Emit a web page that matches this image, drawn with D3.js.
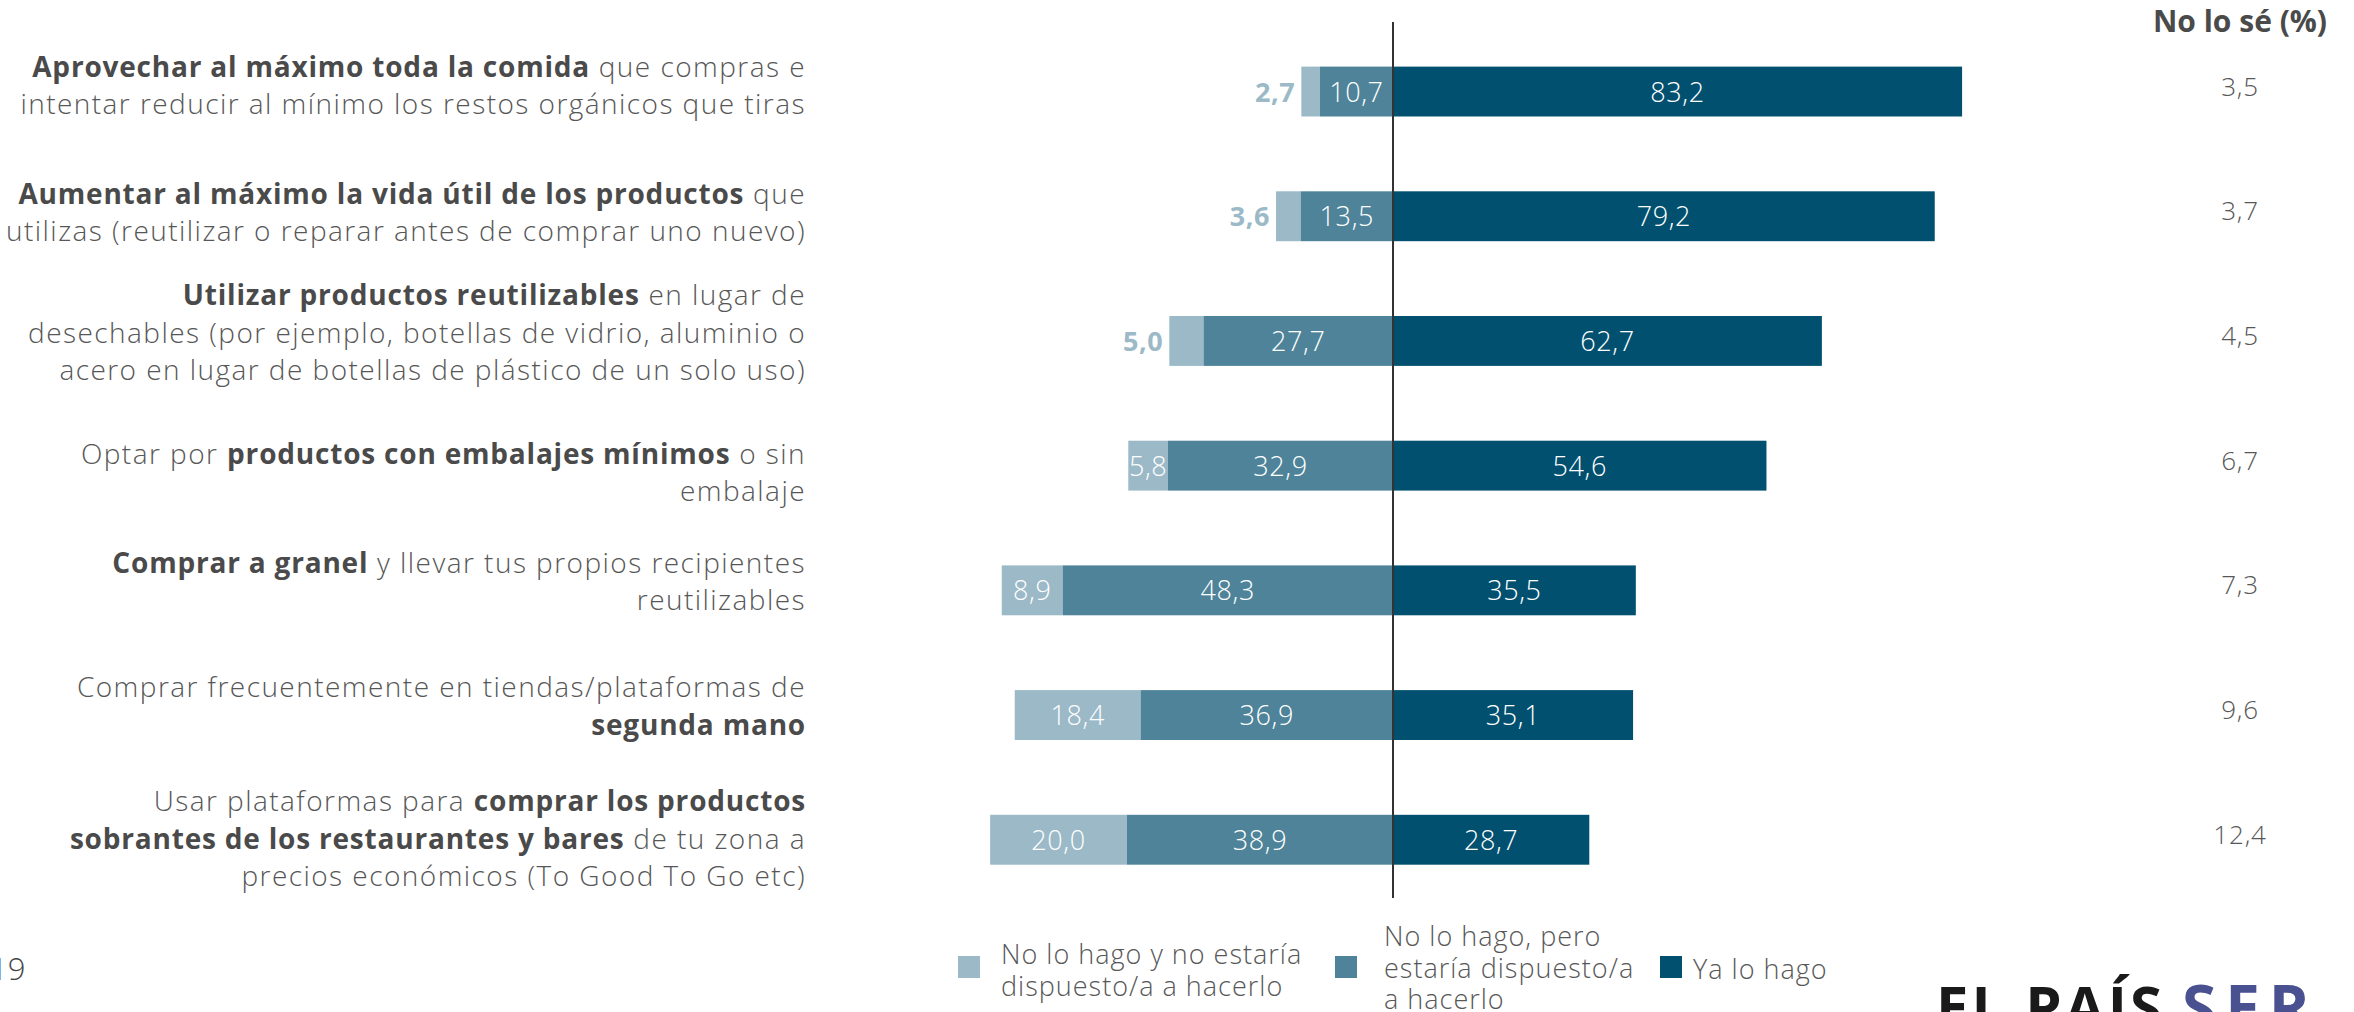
<!DOCTYPE html>
<html>
<head>
<meta charset="utf-8">
<script src="https://cdn.jsdelivr.net/npm/d3@7"></script>
<style>
  html, body { margin: 0; padding: 0; background: #fff; }
  svg { display: block; }
  text { font-family: "Open Sans", "Noto Sans", sans-serif; }
</style>
</head>
<body>
<svg id="chart" width="2354" height="1012"></svg>
<script>
// ---------- DATA ----------
const categories = [
  [[["Aprovechar al máximo toda la comida", 1], [" que compras e", 0]],
   [["intentar reducir al mínimo los restos orgánicos que tiras", 0]]],
  [[["Aumentar al máximo la vida útil de los productos", 1], [" que", 0]],
   [["utilizas (reutilizar o reparar antes de comprar uno nuevo)", 0]]],
  [[["Utilizar productos reutilizables", 1], [" en lugar de", 0]],
   [["desechables (por ejemplo, botellas de vidrio, aluminio o", 0]],
   [["acero en lugar de botellas de plástico de un solo uso)", 0]]],
  [[["Optar por ", 0], ["productos con embalajes mínimos", 1], [" o sin", 0]],
   [["embalaje", 0]]],
  [[["Comprar a granel", 1], [" y llevar tus propios recipientes", 0]],
   [["reutilizables", 0]]],
  [[["Comprar frecuentemente en tiendas/plataformas de", 0]],
   [["segunda mano", 1]]],
  [[["Usar plataformas para ", 0], ["comprar los productos", 1]],
   [["sobrantes de los restaurantes y bares", 1], [" de tu zona a", 0]],
   [["precios económicos (To Good To Go etc)", 0]]]
];
const noLoHagoNoDispuesto = [2.7, 3.6, 5.0, 5.8, 8.9, 18.4, 20.0];
const noLoHagoDispuesto   = [10.7, 13.5, 27.7, 32.9, 48.3, 36.9, 38.9];
const yaLoHago            = [83.2, 79.2, 62.7, 54.6, 35.5, 35.1, 28.7];
const noLoSe              = [3.5, 3.7, 4.5, 6.7, 7.3, 9.6, 12.4];
const legendLines = [
  ["No lo hago y no estaría", "dispuesto/a a hacerlo"],
  ["No lo hago, pero", "estaría dispuesto/a", "a hacerlo"],
  ["Ya lo hago"]
];
const rightHeader = "No lo sé (%)";

// ---------- LAYOUT ----------
const labelShift = [4, 6, 2, 17, 1, 1, 9]; // vertical nudge of each label block
const colLight = "#9bb9c7", colMid = "#4e8399", colDark = "#01506f";
const textCol = "#575757";
const fmt = v => d3.format(".1f")(v).replace(".", ",");

const svg = d3.select("#chart");
const idx = d3.range(categories.length);

const x = d3.scaleLinear().domain([-60, 90]).range([1393 - 60 * 6.84, 1393 + 90 * 6.84]);
const y = d3.scaleBand().domain(idx).range([29.2, 29.2 + 7 * 124.7])
  .paddingInner(0.6).paddingOuter(0.3);
const yc = i => y(i) + y.bandwidth() / 2;

// ---------- category labels ----------
const lineH = 37.5;
const lab = svg.append("g");
idx.forEach(i => {
  const lines = categories[i];
  const n = lines.length;
  lines.forEach((segs, li) => {
    const t = lab.append("text")
      .attr("x", 806)
      .attr("y", yc(i) + labelShift[i] + (li - (n - 1) / 2) * lineH)
      .attr("text-anchor", "end")
      .attr("font-size", 28)
      .attr("fill", textCol);
    segs.forEach(([s, b]) => {
      t.append("tspan").text(s)
        .attr("font-weight", b ? 700 : 300)
        .attr("letter-spacing", b ? 0.8 : 1.45)
        .attr("fill", b ? "#4a4a4a" : textCol);
    });
  });
});

// ---------- bars ----------
const bars = svg.append("g");
const stacks = idx.map(i => [
  { x0: -(noLoHagoNoDispuesto[i] + noLoHagoDispuesto[i]), x1: -noLoHagoDispuesto[i], v: noLoHagoNoDispuesto[i], c: colLight, k: 0 },
  { x0: -noLoHagoDispuesto[i], x1: 0, v: noLoHagoDispuesto[i], c: colMid, k: 1 },
  { x0: 0, x1: yaLoHago[i], v: yaLoHago[i], c: colDark, k: 2 }
]);
const outside = d => d.k === 0 && d.v < 5.5;
idx.forEach(i => {
  const g = bars.append("g");
  g.selectAll("rect").data(stacks[i]).join("rect")
    .attr("x", d => x(d.x0))
    .attr("width", d => x(d.x1) - x(d.x0))
    .attr("y", y(i))
    .attr("height", y.bandwidth())
    .attr("fill", d => d.c);
  g.selectAll("text").data(stacks[i]).join("text")
    .attr("x", d => outside(d) ? x(d.x0) - 6 : (x(d.x0) + x(d.x1)) / 2)
    .attr("y", yc(i) + 10)
    .attr("text-anchor", d => outside(d) ? "end" : "middle")
    .attr("font-size", 27)
    .attr("letter-spacing", 0.6)
    .attr("font-weight", d => outside(d) ? 700 : 300)
    .attr("fill", d => outside(d) ? colLight : "#fff")
    .text(d => fmt(d.v));
});

// zero line
svg.append("line")
  .attr("x1", x(0)).attr("x2", x(0))
  .attr("y1", 22).attr("y2", 898)
  .attr("stroke", "#333").attr("stroke-width", 2);

// ---------- right column ----------
svg.append("text")
  .attr("x", 2240).attr("y", 32)
  .attr("text-anchor", "middle")
  .attr("font-size", 30).attr("font-weight", 700)
  .attr("fill", "#4a4a4a")
  .text(rightHeader);
svg.append("g").selectAll("text").data(noLoSe).join("text")
  .attr("x", 2240)
  .attr("y", (d, i) => yc(i) + 4)
  .attr("text-anchor", "middle")
  .attr("font-size", 26).attr("font-weight", 300)
  .attr("letter-spacing", 0.8)
  .attr("fill", textCol)
  .text(d => fmt(d));

// ---------- legend ----------
const legendPos = [
  { c: colLight, sx: 958, sy: 956, tx: 1001, base: 964 },
  { c: colMid, sx: 1335, sy: 956, tx: 1384, base: 946 },
  { c: colDark, sx: 1660, sy: 956, tx: 1693, base: 979 }
];
const lg = svg.append("g");
legendPos.forEach((L, k) => {
  lg.append("rect").attr("x", L.sx).attr("y", L.sy).attr("width", 22).attr("height", 22).attr("fill", L.c);
  const t = lg.append("text").attr("font-size", 27).attr("font-weight", 300)
    .attr("letter-spacing", 1).attr("fill", textCol);
  legendLines[k].forEach((s, j) => t.append("tspan").attr("x", L.tx).attr("y", L.base + j * 31.5).text(s));
});

// ---------- footer ----------
svg.append("text").attr("x", -10).attr("y", 980)
  .attr("font-size", 31).attr("font-weight", 300).attr("fill", "#444").text("19");

svg.append("text").attr("x", 1936).attr("y", 1028)
  .attr("font-family", "'Liberation Serif', serif")
  .attr("font-size", 58).attr("font-weight", 700)
  .attr("letter-spacing", 3)
  .attr("fill", "#1a1a1a").text("EL PAÍS");
svg.append("text").attr("x", 2182).attr("y", 1030)
  .attr("font-family", "'DejaVu Sans', sans-serif")
  .attr("font-size", 62).attr("font-weight", 700)
  .attr("letter-spacing", 9)
  .attr("fill", "#4a5190").text("SER");
</script>
</body>
</html>
